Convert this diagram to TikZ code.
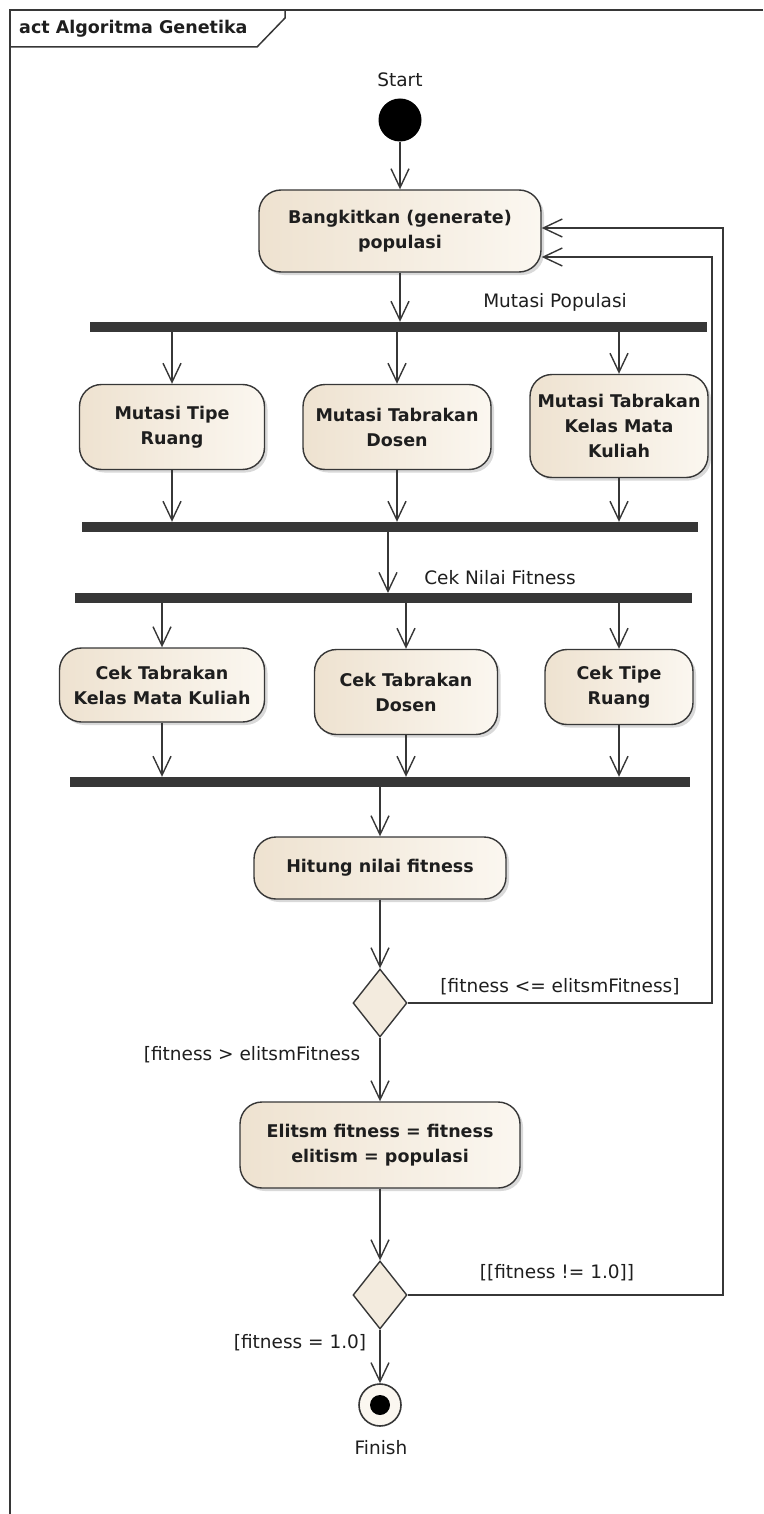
\documentclass[tikz,border=0pt]{standalone}
\usepackage{fontspec}
\setmainfont{DejaVu Sans}
\usetikzlibrary{arrows.meta,shapes.geometric,shadows}
\definecolor{actA}{RGB}{238,226,208}
\definecolor{actB}{RGB}{251,247,240}
\definecolor{actline}{RGB}{55,55,55}
\definecolor{barcol}{RGB}{55,55,55}
\definecolor{txt}{RGB}{30,30,30}
\begin{document}
\begin{tikzpicture}[x=1pt,y=-1pt,
  every node/.style={text=txt},
  act/.style={draw=actline, line width=1.4pt, left color=actA, right color=actB,
    rounded corners=22pt, align=center, inner sep=0pt,
    font=\fontsize{17.5}{25}\selectfont\bfseries,
    drop shadow={shadow xshift=3pt, shadow yshift=-3pt, opacity=0.3}},
  forkbar/.style={fill=barcol, draw=none, minimum height=10pt, inner sep=0pt},
  decis/.style={diamond, draw=actline, line width=1.4pt, fill=actA!70!white,
    minimum width=54pt, minimum height=68pt, inner sep=0pt},
  lbl/.style={font=\fontsize{18.5}{22}\selectfont, inner sep=0pt},
  flow/.style={draw=actline, line width=1.4pt,
    -{Straight Barb[length=19pt,width=18pt,line width=1.4pt]}},
  plain/.style={draw=actline, line width=1.4pt}]
\useasboundingbox (0,0) rectangle (763,1514);
% frame
\draw[actline, line width=1.5pt] (10,1514) -- (10,10) -- (763,10);
\draw[actline, line width=1.5pt] (10,47) -- (257,47) -- (285,18) -- (285,10);
\node[anchor=west, font=\fontsize{17.5}{20}\selectfont\bfseries, inner sep=0pt] (title) at (19,29) {act Algoritma Genetika};

% start
\node[circle, fill=black, minimum size=43pt, inner sep=0pt] (start) at (400,120) {};
\node[lbl] (startlbl) at (400,80) {Start};

\node[act, minimum width=282pt, minimum height=82pt] (gen) at (400,231) {Bangkitkan (generate)\\populasi};

\node[forkbar, minimum width=617pt] (bar1) at (398.5,327) {};
\node[lbl] (mplbl) at (555,302) {Mutasi Populasi};

\node[act, minimum width=185pt, minimum height=85pt] (m1) at (172,427) {Mutasi Tipe\\Ruang};
\node[act, minimum width=188pt, minimum height=85pt] (m2) at (397,427) {Mutasi Tabrakan\\Dosen};
\node[act, minimum width=178pt, minimum height=103pt] (m3) at (619,426) {Mutasi Tabrakan\\Kelas Mata\\Kuliah};

\node[forkbar, minimum width=616pt] (bar2) at (390,527) {};
\node[forkbar, minimum width=617pt] (bar3) at (383.5,598) {};
\node[lbl] (cnlbl) at (500,578) {Cek Nilai Fitness};

\node[act, minimum width=205pt, minimum height=74pt] (c1) at (162,685) {Cek Tabrakan\\Kelas Mata Kuliah};
\node[act, minimum width=183pt, minimum height=85pt] (c2) at (406,692) {Cek Tabrakan\\Dosen};
\node[act, minimum width=148pt, minimum height=75pt] (c3) at (619,687) {Cek Tipe\\Ruang};

\node[forkbar, minimum width=620pt] (bar4) at (380,782) {};

\node[act, minimum width=252pt, minimum height=62pt] (hit) at (380,868) {Hitung nilai fitness};
\node[decis] (d1) at (380,1003) {};
\node[act, minimum width=280pt, minimum height=86pt] (eli) at (380,1145) {Elitsm fitness = fitness\\elitism = populasi};
\node[decis] (d2) at (380,1295) {};

\node[circle, draw=actline, line width=1.6pt, fill=actB, minimum size=42pt, inner sep=0pt] (fin) at (380,1405) {};
\node[circle, fill=black, minimum size=20pt, inner sep=0pt] (findot) at (fin) {};
\node[lbl] (finlbl) at (381,1448) {Finish};

% labels
\node[lbl] (g1) at (560,987) {[fitness <= elitsmFitness]};
\node[lbl] (g2) at (252,1055) {[fitness > elitsmFitness};
\node[lbl] (g3) at (557,1273) {[[fitness != 1.0]]};
\node[lbl] (g4) at (300,1343) {[fitness = 1.0]};

% connectors
\draw[flow] (start) -- (gen);
\draw[flow] (gen.south) -- (gen.south |- bar1.north);
\foreach \n in {m1,m2,m3}{
  \draw[flow] (\n.north |- bar1.south) -- (\n.north);
  \draw[flow] (\n.south) -- (\n.south |- bar2.north);
}
\draw[flow] (388,532) -- (388,593);
\foreach \n in {c1,c2,c3}{
  \draw[flow] (\n.north |- bar3.south) -- (\n.north);
  \draw[flow] (\n.south) -- (\n.south |- bar4.north);
}
\draw[flow] (hit.north |- bar4.south) -- (hit.north);
\draw[flow] (hit.south) -- (d1.north);
\draw[flow] (d1.south) -- (eli.north);
\draw[flow] (eli.south) -- (d2.north);
\draw[flow] (d2.south) -- (fin.north);

\coordinate (r1) at (712,257);
\coordinate (r2) at (723,228);
\draw[flow] (d1.east) -| (r1) -- (gen.east |- r1);
\draw[flow] (d2.east) -| (r2) -- (gen.east |- r2);
\end{tikzpicture}
\end{document}
